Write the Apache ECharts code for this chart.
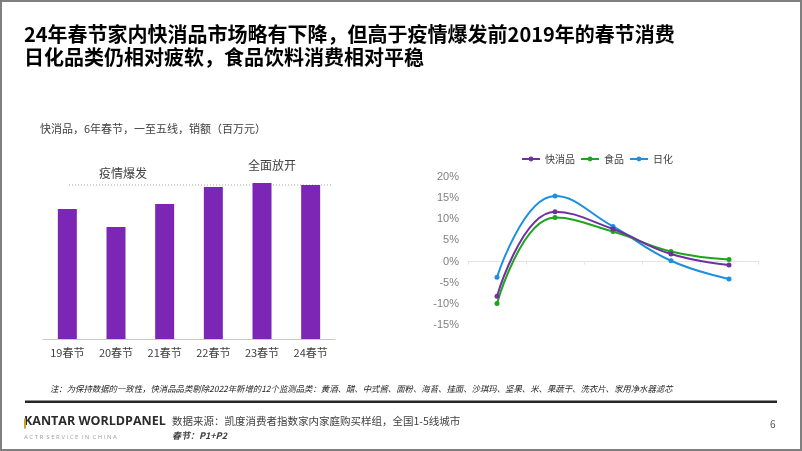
<!DOCTYPE html>
<html>
<head>
<meta charset="utf-8">
<script src="https://cdn.jsdelivr.net/npm/echarts@6/dist/echarts.min.js"></script>
<style>
html,body{margin:0;padding:0;background:#fff;}
#c{width:802px;height:451px;}
</style>
</head>
<body>
<div id="c"></div>
<script>
// ---- data ----
const barCategories = ['19春节', '20春节', '21春节', '22春节', '23春节', '24春节'];
const barValues = [130, 112, 135, 152, 156, 154];

const lineCategories = ['20春节', '21春节', '22春节', '23春节', '24春节'];
const fmcgGrowth = [-8.2, 11.8, 7.7, 1.8, -0.8];
const foodGrowth = [-9.9, 10.4, 7.1, 2.4, 0.5];
const homeCareGrowth = [-3.7, 15.5, 8.3, 0.2, -4.1];
const seriesNames = ['快消品', '食品', '日化'];
const yTicks = [-15, -10, -5, 0, 5, 10, 15, 20];

const FONT = '"Noto Sans CJK SC", "Noto Sans", sans-serif';
const chart = echarts.init(document.getElementById('c'), null, {renderer: 'canvas'});

const colors = ['#7030A0', '#1EA51E', '#1C8FDF'];

chart.setOption({
  animation: false,
  backgroundColor: '#fff',
  textStyle: {fontFamily: FONT},
  legend: {
    data: seriesNames,
    left: 516, top: 149,
    itemWidth: 18, itemHeight: 6, itemGap: 5,
    textStyle: {fontSize: 10, color: '#404040', fontFamily: FONT}
  },
  grid: [
    {left: 43, right: 467, top: 139, bottom: 112},
    {left: 468, right: 44, top: 177, bottom: 126}
  ],
  xAxis: [
    {
      gridIndex: 0, type: 'category', data: barCategories,
      axisLine: {lineStyle: {color: '#c8c8c8', width: 1}},
      axisTick: {show: false},
      axisLabel: {color: '#404040', fontSize: 11, margin: 8, fontFamily: FONT}
    },
    {
      gridIndex: 1, type: 'category', data: lineCategories,
      axisLine: {onZero: true, lineStyle: {color: '#e3e3e3', width: 1}},
      axisTick: {show: true, length: 3, lineStyle: {color: '#e3e3e3'}},
      axisLabel: {show: false}
    }
  ],
  yAxis: [
    {gridIndex: 0, type: 'value', min: 0, max: 200, show: false, splitLine: {show: false}},
    {
      gridIndex: 1, type: 'value', min: yTicks[0], max: yTicks[yTicks.length-1], interval: 5,
      axisLine: {show: false}, axisTick: {show: false}, splitLine: {show: false},
      axisLabel: {color: '#808080', fontSize: 11, margin: 9, formatter: '{value}%', fontFamily: 'Liberation Sans, Arial, sans-serif'}
    }
  ],
  series: [
    {
      type: 'bar', xAxisIndex: 0, yAxisIndex: 0, data: barValues,
      barWidth: 19, itemStyle: {color: '#7B26B5'}, legendHoverLink: false
    },
    {
      name: seriesNames[0], type: 'line', xAxisIndex: 1, yAxisIndex: 1, data: fmcgGrowth,
      smooth: 0.45, symbol: 'circle', symbolSize: 5, z: 4,
      lineStyle: {color: colors[0], width: 2}, itemStyle: {color: colors[0]}
    },
    {
      name: seriesNames[1], type: 'line', xAxisIndex: 1, yAxisIndex: 1, data: foodGrowth,
      smooth: 0.45, symbol: 'circle', symbolSize: 5, z: 3,
      lineStyle: {color: colors[1], width: 2}, itemStyle: {color: colors[1]}
    },
    {
      name: seriesNames[2], type: 'line', xAxisIndex: 1, yAxisIndex: 1, data: homeCareGrowth,
      smooth: 0.45, symbol: 'circle', symbolSize: 5, z: 2,
      lineStyle: {color: colors[2], width: 2}, itemStyle: {color: colors[2]}
    }
  ],
  graphic: [
    {type: 'rect', shape: {x: 1, y: 1, width: 800, height: 449}, style: {fill: 'none', stroke: '#7f7f7f', lineWidth: 2}, silent: true},
    {type: 'text', left: 24, top: 24, style: {text: '24年春节家内快消品市场略有下降，但高于疫情爆发前2019年的春节消费', font: 'bold 20px ' + FONT, fill: '#000'}},
    {type: 'text', left: 24, top: 47, style: {text: '日化品类仍相对疲软，食品饮料消费相对平稳', font: 'bold 20px ' + FONT, fill: '#000'}},
    {type: 'text', left: 40, top: 123, style: {text: '快消品，6年春节，一至五线，销额（百万元）', font: '11px ' + FONT, fill: '#404040'}},
    {type: 'line', shape: {x1: 69, y1: 185, x2: 333, y2: 185}, style: {stroke: '#a6a6a6', lineWidth: 1, lineDash: [1, 2]}},
    {type: 'text', x: 123, y: 173, style: {text: '疫情爆发', font: '12px ' + FONT, fill: '#404040', align: 'center', verticalAlign: 'middle'}},
    {type: 'text', x: 272, y: 165, style: {text: '全面放开', font: '12px ' + FONT, fill: '#404040', align: 'center', verticalAlign: 'middle'}},
    {type: 'text', left: 50, top: 385, style: {text: '注：为保持数据的一致性，快消品品类剔除2022年新增的12个监测品类：黄酒、醋、中式酱、面粉、海苔、挂面、沙琪玛、坚果、米、果蔬干、洗衣片、家用净水器滤芯', font: 'italic 8.4px ' + FONT, fill: '#262626'}},
    {type: 'rect', shape: {x: 25, y: 400.5, width: 752, height: 2.5}, style: {fill: '#262626'}},
    {type: 'text', left: 24, top: 415, style: {text: 'KANTAR WORLDPANEL', font: 'bold 12.5px "Open Sans", sans-serif', fill: '#2b2b2b'}},
    {type: 'rect', shape: {x: 24, y: 418.5, width: 2, height: 10}, style: {fill: '#C9A227'}},
    {type: 'text', left: 24, top: 434, style: {text: 'A C T R  S E R V I C E  I N  C H I N A', font: '6px "Open Sans", sans-serif', fill: '#a0a0a0'}},
    {type: 'text', left: 172, top: 416, style: {text: '数据来源：凯度消费者指数家内家庭购买样组，全国1-5线城市', font: '10.5px ' + FONT, fill: '#404040'}},
    {type: 'text', left: 172, top: 431, style: {text: '春节：P1+P2', font: 'italic bold 9px ' + FONT, fill: '#404040'}},
    {type: 'text', left: 770, top: 419, style: {text: '6', font: '10px ' + FONT, fill: '#595959'}}
  ]
});
</script>
</body>
</html>
